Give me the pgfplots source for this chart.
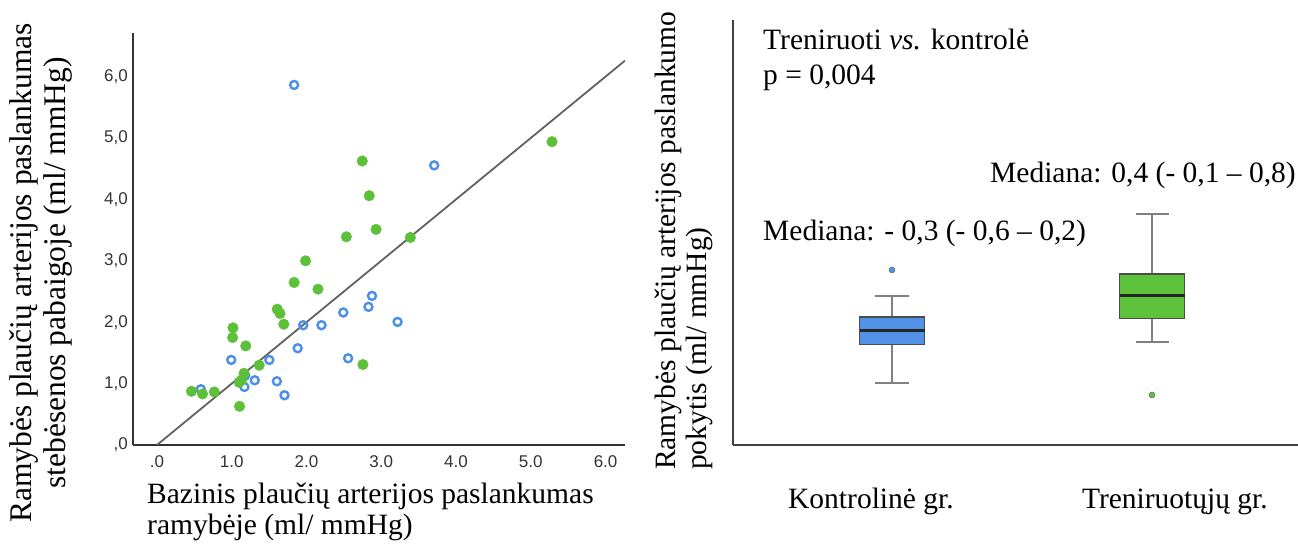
\documentclass[border=0pt]{standalone}
\usepackage{fontspec}
\setmainfont{Liberation Serif}
\newfontfamily\tickfont{Liberation Sans}
\usepackage{pgfplots}
\pgfplotsset{compat=1.18}
\usepgfplotslibrary{statistics}
\definecolor{ptblue}{RGB}{74,143,232}
\definecolor{ptgreen}{RGB}{92,192,56}
\definecolor{boxblue}{RGB}{82,146,230}
\definecolor{boxgreen}{RGB}{94,194,60}
\newcommand{\lbl}{\fontsize{29.5}{31}\selectfont}
\begin{document}
\begin{tikzpicture}[x=1pt,y=1pt]
\path[use as bounding box] (0,0) rectangle (1298,545);
% ---------------- left scatter ----------------
\begin{axis}[
  at={(133pt,100pt)}, anchor=south west,
  scale only axis, width=492pt, height=412pt,
  xmin=-0.32, xmax=6.26, ymin=0, ymax=6.71,
  axis lines=left,
  axis line style={-, draw=black!80, line width=2pt},
  major tick length=0pt,
  xtick={0,1,2,3,4,5,6},
  xticklabels={.0,1.0,2.0,3.0,4.0,5.0,6.0},
  ytick={0,1,2,3,4,5,6},
  yticklabels={{,0},{1,0},{2,0},{3,0},{4,0},{5,0},{6,0}},
  tick label style={font=\tickfont\fontsize{17}{19}\selectfont, text=black!80},
  xticklabel style={anchor=north, inner sep=0pt, yshift=-10pt},
  yticklabel style={anchor=east, inner sep=0pt, xshift=-5pt},
  xlabel={Bazinis plaučių arterijos paslankumas\\ramybėje (ml/ mmHg)},
  xlabel style={at={(axis description cs:0.0285,-0.091)}, anchor=north west,
    align=left, inner sep=0pt, font=\lbl},
  ylabel={Ramybės plaučių arterijos paslankumas\\stebėsenos pabaigoje (ml/ mmHg)},
  ylabel style={at={(axis description cs:-0.252,0.4175)}, anchor=north,
    align=center, inner sep=0pt, font=\fontsize{31.5}{34}\selectfont},
]
\addplot[only marks, mark=o, mark size=4pt,
  mark options={draw=ptblue, line width=2.4pt}] coordinates {
(1.835,5.864) (3.708,4.554) (2.876,2.429) (2.829,2.250) (2.492,2.158)
(3.218,2.005) (1.956,1.951) (2.201,1.951) (1.882,1.576) (2.557,1.413)
(0.994,1.386) (1.503,1.386) (1.308,1.054) (1.604,1.038) (1.706,0.810)
(1.170,0.946) (0.587,0.908) (1.180,1.130)
};
\addplot[only marks, mark=*, mark size=5.3pt,
  mark options={draw=ptgreen, fill=ptgreen}] coordinates {
(5.284,4.940) (2.746,4.625) (2.839,4.060) (2.931,3.511) (2.534,3.391)
(3.389,3.380) (1.988,3.000) (1.835,2.647) (2.154,2.538) (1.609,2.212)
(1.646,2.141) (1.697,1.967) (1.017,1.908) (1.012,1.750) (1.188,1.614)
(1.368,1.299) (2.755,1.310) (1.165,1.168) (1.133,1.060) (1.100,1.020)
(1.105,0.630) (0.462,0.875) (0.610,0.832) (0.767,0.864)
};
\addplot[draw=black!62, line width=1.8pt] coordinates {(0,0) (6.26,6.26)};
\end{axis}
% ---------------- right boxplot ----------------
\begin{axis}[
  at={(733pt,100pt)}, anchor=south west,
  scale only axis, width=565pt, height=425pt,
  xmin=0.3885, xmax=2.5615, ymin=-2.62, ymax=5.88,
  axis lines=left,
  axis line style={-, draw=black!75, line width=2pt},
  major tick length=0pt,
  ytick=\empty,
  xtick={0.919,2.088},
  xticklabels={Kontrolinė gr.,Treniruotųjų gr.},
  xticklabel style={anchor=base, inner sep=0pt, yshift=-64pt, font=\lbl},
  ylabel={Ramybės plaučių arterijos paslankumo\\pokytis (ml/ mmHg)},
  ylabel style={at={(axis description cs:-0.1386,-0.0588)}, anchor=north west,
    align=left, inner sep=0pt, font=\lbl},
  boxplot/draw direction=y,
]
\addplot[draw=black!70, fill=boxblue, line width=1.3pt,
  mark=*, mark size=3pt, mark options={fill=boxblue, draw=black!55, line width=0.6pt},
  boxplot prepared={draw position=1, box extend=0.25, whisker extend=0.127,
    lower whisker=-1.374, lower quartile=-0.606, median=-0.334,
    upper quartile=-0.06, upper whisker=0.366,
    every median/.style={draw=black!85, line width=2.6pt},
    every whisker/.style={draw=black!50, line width=1.8pt}}]
  table[row sep=\\, y index=0] {data\\ 0.88\\};
\addplot[draw=black!70, fill=boxgreen, line width=1.3pt,
  mark=*, mark size=3pt, mark options={fill=boxgreen, draw=black!55, line width=0.6pt},
  boxplot prepared={draw position=2, box extend=0.25, whisker extend=0.127,
    lower whisker=-0.566, lower quartile=-0.086, median=0.374,
    upper quartile=0.80, upper whisker=2.0,
    every median/.style={draw=black!85, line width=2.6pt},
    every whisker/.style={draw=black!50, line width=1.8pt}}]
  table[row sep=\\, y index=0] {data\\ -1.62\\};
\end{axis}
\node[anchor=base west, inner sep=0pt, font=\lbl] at (763,495.5) {Treniruoti \textit{vs.} kontrolė};
\node[anchor=base west, inner sep=0pt, font=\lbl] at (763,460.5) {p = 0,004};
\node[anchor=base west, inner sep=0pt, font=\lbl] at (990,362) {Mediana: 0,4 (- 0,1 – 0,8)};
\node[anchor=base west, inner sep=0pt, font=\lbl] at (763,304) {Mediana: - 0,3 (- 0,6 – 0,2)};
\end{tikzpicture}
\end{document}
